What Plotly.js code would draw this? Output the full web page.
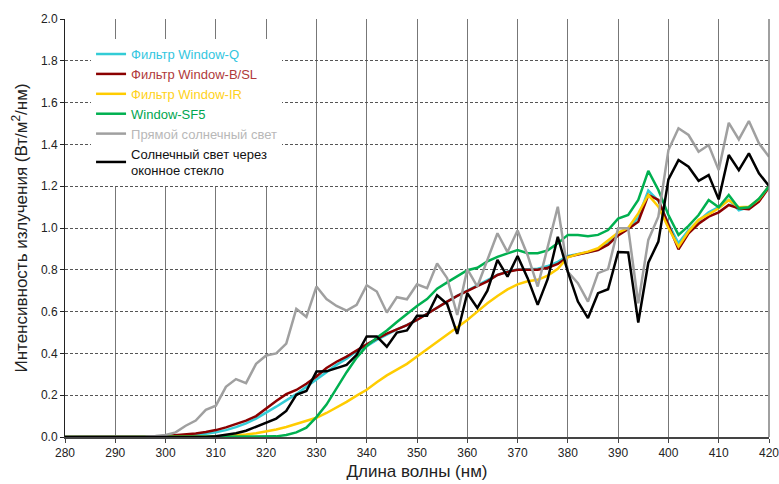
<!DOCTYPE html>
<html>
<head>
<meta charset="utf-8">
<script src="https://cdn.plot.ly/plotly-3.0.1.min.js"></script>
<style>
html,body{margin:0;padding:0;background:#fff;}
#chart{width:779px;height:484px;}
</style>
</head>
<body>
<div id="chart"></div>
<script>
// Wavelength (nm), 2 nm steps
const wavelength = [280,282,284,286,288,290,292,294,296,298,300,302,304,306,308,310,312,314,316,318,320,322,324,326,328,330,332,334,336,338,340,342,344,346,348,350,352,354,356,358,360,362,364,366,368,370,372,374,376,378,380,382,384,386,388,390,392,394,396,398,400,402,404,406,408,410,412,414,416,418,420];

const windowQ = [0,0,0,0,0,0,0,0,0,0,0.002,0.004,0.007,0.011,0.016,0.023,0.033,0.047,0.065,0.088,0.115,0.145,0.175,0.205,0.24,0.275,0.31,0.345,0.375,0.41,0.435,0.465,0.49,0.515,0.535,0.56,0.59,0.62,0.648,0.675,0.7,0.723,0.747,0.776,0.792,0.802,0.803,0.805,0.818,0.838,0.866,0.875,0.884,0.897,0.928,0.97,1.0,1.05,1.179,1.13,1.02,0.927,0.99,1.035,1.075,1.1,1.134,1.085,1.1,1.134,1.2];

const windowBSL = [0,0,0,0,0,0,0,0,0,0.002,0.005,0.008,0.012,0.017,0.024,0.033,0.046,0.062,0.078,0.1,0.138,0.172,0.205,0.225,0.255,0.29,0.33,0.36,0.385,0.415,0.443,0.47,0.495,0.515,0.535,0.56,0.59,0.62,0.648,0.675,0.7,0.722,0.745,0.775,0.79,0.8,0.8,0.8,0.81,0.828,0.862,0.872,0.882,0.895,0.92,0.965,0.995,1.03,1.158,1.134,1.015,0.898,0.975,1.02,1.054,1.075,1.11,1.094,1.09,1.126,1.195];

const windowIR = [0,0,0,0,0,0,0,0,0,0,0,0,0,0,0,0.003,0.005,0.008,0.012,0.018,0.026,0.036,0.048,0.062,0.076,0.092,0.115,0.14,0.168,0.198,0.226,0.262,0.295,0.322,0.35,0.385,0.42,0.455,0.49,0.525,0.56,0.6,0.64,0.675,0.706,0.73,0.745,0.752,0.772,0.805,0.86,0.875,0.887,0.903,0.94,0.978,1.0,1.07,1.158,1.102,1.0,0.911,0.983,1.039,1.065,1.094,1.134,1.099,1.102,1.137,1.2];

const windowSF5 = [0,0,0,0,0,0,0,0,0,0,0,0,0,0,0,0,0,0,0,0,0,0.003,0.01,0.022,0.045,0.095,0.155,0.235,0.31,0.38,0.435,0.475,0.51,0.55,0.59,0.627,0.66,0.71,0.74,0.77,0.798,0.81,0.84,0.862,0.88,0.895,0.879,0.879,0.893,0.927,0.967,0.967,0.96,0.967,0.99,1.045,1.062,1.134,1.273,1.182,1.062,0.967,1.01,1.062,1.134,1.099,1.158,1.094,1.099,1.14,1.2];

const directSun = [0,0,0,0,0,0,0,0,0.002,0.005,0.01,0.022,0.054,0.079,0.13,0.15,0.24,0.277,0.258,0.35,0.39,0.4,0.447,0.613,0.575,0.72,0.66,0.627,0.605,0.632,0.726,0.696,0.596,0.669,0.659,0.731,0.712,0.83,0.76,0.584,0.803,0.72,0.845,0.975,0.885,0.988,0.87,0.72,0.91,1.102,0.79,0.736,0.648,0.784,0.803,0.999,0.999,0.64,0.943,1.054,1.373,1.477,1.445,1.365,1.397,1.277,1.503,1.424,1.512,1.405,1.341];

const sunThroughGlass = [0,0,0,0,0,0,0,0,0,0,0,0,0,0,0,0.004,0.01,0.018,0.03,0.05,0.068,0.088,0.125,0.202,0.22,0.313,0.314,0.33,0.345,0.393,0.481,0.481,0.432,0.5,0.51,0.58,0.58,0.678,0.636,0.493,0.688,0.618,0.70,0.847,0.767,0.866,0.76,0.632,0.756,0.958,0.79,0.648,0.569,0.688,0.707,0.885,0.883,0.548,0.834,0.935,1.233,1.325,1.293,1.226,1.253,1.137,1.349,1.277,1.357,1.262,1.201];

const seriesNames = ["Фильтр Window-Q","Фильтр Window-B/SL","Фильтр Window-IR","Window-SF5","Прямой солнечный свет","Солнечный свет через<br>оконное стекло"];
const seriesColors = ["#33CCD6","#8B0000","#FFCC00","#00B050","#A0A0A0","#000000"];
const textColors = ["#33C6E0","#B03A3A","#FFD21A","#00A650","#B8B8B8","#111111"];
const seriesData = [windowQ, windowBSL, windowIR, windowSF5, directSun, sunThroughGlass];

const traces = seriesData.map((ys,i)=>({
  x: wavelength, y: ys, type:'scatter', mode:'lines',
  name: '<span style="color:'+textColors[i]+'">'+seriesNames[i]+'</span>',
  line:{color:seriesColors[i], width:2.5},
  hoverinfo:'x+y'
}));

const layout = {
  width:779, height:484,
  margin:{l:65, r:10, t:19, b:47},
  paper_bgcolor:'#fff', plot_bgcolor:'#fff',
  font:{family:'"Liberation Sans", Arial, sans-serif', size:12, color:'#222'},
  showlegend:true,
  legend:{x:0.037, y:0.952, xanchor:'left', yanchor:'top', bgcolor:'rgba(255,255,255,1)',
          font:{size:13}, tracegroupgap:0, itemwidth:30},
  shapes:[{type:'line', xref:'paper', yref:'paper', x0:1, x1:1, y0:0, y1:1,
           line:{color:'#808080', width:1.5}}],
  xaxis:{
    range:[280,420], dtick:10, tick0:280,
    showgrid:true, gridcolor:'#777', gridwidth:1,
    showline:true, linecolor:'#444', linewidth:2,
    ticks:'outside', ticklen:4, tickcolor:'#444',
    zeroline:false, ticklabeloverflow:'allow',
    tickfont:{size:12, color:'#222'},
    title:{text:'Длина волны (нм)', font:{size:17, color:'#222'}, standoff:6}
  },
  yaxis:{
    range:[0,2], dtick:0.2, tick0:0, tickformat:'.1f',
    showgrid:true, gridcolor:'#555', gridwidth:1, griddash:'3px,2px',
    showline:true, linecolor:'#222', linewidth:1,
    ticks:'outside', ticklen:4, tickcolor:'#222',
    zeroline:false,
    tickfont:{size:12, color:'#222'},
    title:{text:'Интенсивность излучения (Вт/м<sup>2</sup>/нм)', font:{size:17, color:'#222'}, standoff:8}
  }
};

Plotly.newPlot('chart', traces, layout, {displayModeBar:false, staticPlot:true});
</script>
</body>
</html>
